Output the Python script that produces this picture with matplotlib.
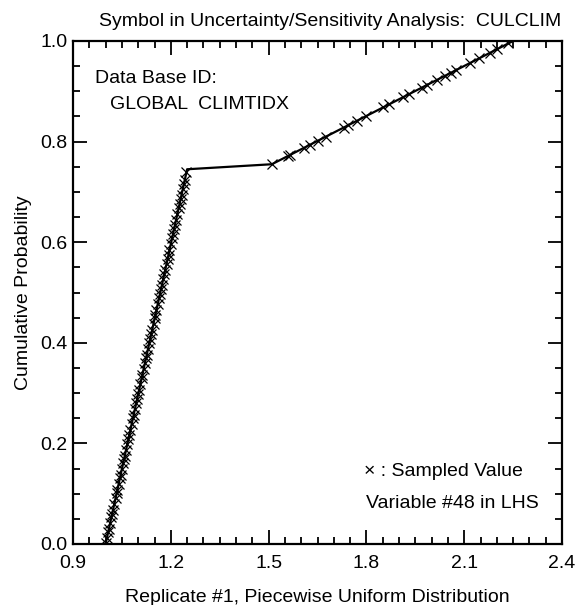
import numpy as np
import matplotlib
matplotlib.use('Agg')
import matplotlib.pyplot as plt
from matplotlib.ticker import MultipleLocator

plt.rcParams['font.family'] = ['Liberation Sans', 'DejaVu Sans']

# piecewise uniform distribution (cdf break points)
cdf_x = [1.0, 1.25, 1.51, 2.25]
cdf_p = [0.0, 0.745, 0.755, 1.0]

# sampled values (LHS, replicate 1)
samples_low = [1.001, 1.004, 1.008, 1.010, 1.014, 1.018, 1.020, 1.023, 1.027, 1.031,
               1.034, 1.036, 1.040, 1.044, 1.046, 1.050, 1.054, 1.057, 1.059, 1.063,
               1.067, 1.070, 1.073, 1.076, 1.080, 1.084, 1.086, 1.090, 1.094, 1.097,
               1.100, 1.103, 1.107, 1.111, 1.113, 1.117, 1.121, 1.124, 1.126, 1.130,
               1.134, 1.137, 1.140, 1.143, 1.147, 1.151, 1.153, 1.156, 1.160, 1.164,
               1.167, 1.170, 1.173, 1.177, 1.180, 1.183, 1.187, 1.190, 1.193, 1.196,
               1.200, 1.204, 1.207, 1.210, 1.213, 1.216, 1.220, 1.224, 1.227, 1.230,
               1.233, 1.237, 1.240, 1.243, 1.248]
samples_high = [1.51, 1.56, 1.566, 1.61, 1.627, 1.652, 1.675, 1.73, 1.745, 1.77,
                1.80, 1.852, 1.87, 1.913, 1.93, 1.97, 1.985, 2.016, 2.04, 2.06,
                2.075, 2.118, 2.145, 2.18, 2.20, 2.235]

samples = np.array(samples_low + samples_high)
probs = np.interp(samples, cdf_x, cdf_p)

fig = plt.figure(figsize=(5.77, 6.05), dpi=100)
ax = fig.add_axes([73/577, 1 - 544/605, (562 - 73)/577, (544 - 41)/605])

ax.plot(cdf_x, cdf_p, '-', color='k', lw=1.6)
ax.plot(samples, probs, 'x', color='k', ms=7, mew=0.9)

ax.set_xlim(0.9, 2.4)
ax.set_ylim(0.0, 1.0)
ax.xaxis.set_major_locator(MultipleLocator(0.3))
ax.xaxis.set_minor_locator(MultipleLocator(0.05))
ax.yaxis.set_major_locator(MultipleLocator(0.2))
ax.yaxis.set_minor_locator(MultipleLocator(0.05))
ax.xaxis.set_major_formatter(plt.FormatStrFormatter('%.1f'))
ax.yaxis.set_major_formatter(plt.FormatStrFormatter('%.1f'))
ax.tick_params(which='both', direction='in', top=True, right=True, labelsize=14,
               width=1.3, colors='k')
ax.tick_params(which='major', length=10)
ax.tick_params(which='minor', length=5)
ax.tick_params(axis='x', which='major', pad=8)
ax.tick_params(axis='y', which='major', pad=4)
for s in ax.spines.values():
    s.set_linewidth(1.6)

ax.set_xlabel('Replicate #1, Piecewise Uniform Distribution', fontsize=14, labelpad=12)
ax.set_ylabel('Cumulative Probability', fontsize=14, labelpad=6)

fig.text(0.572, 0.965, 'Symbol in Uncertainty/Sensitivity Analysis:  CULCLIM',
         ha='center', va='center', fontsize=14)

ax.text(0.045, 0.925, 'Data Base ID:', transform=ax.transAxes, fontsize=14, va='center')
ax.text(0.075, 0.874, 'GLOBAL  CLIMTIDX', transform=ax.transAxes, fontsize=14, va='center')
ax.text(0.595, 0.145, '\u00d7 : Sampled Value', transform=ax.transAxes, fontsize=14, va='center')
ax.text(0.60, 0.08, 'Variable #48 in LHS', transform=ax.transAxes, fontsize=14, va='center')

fig.savefig('out.png', dpi=100)
